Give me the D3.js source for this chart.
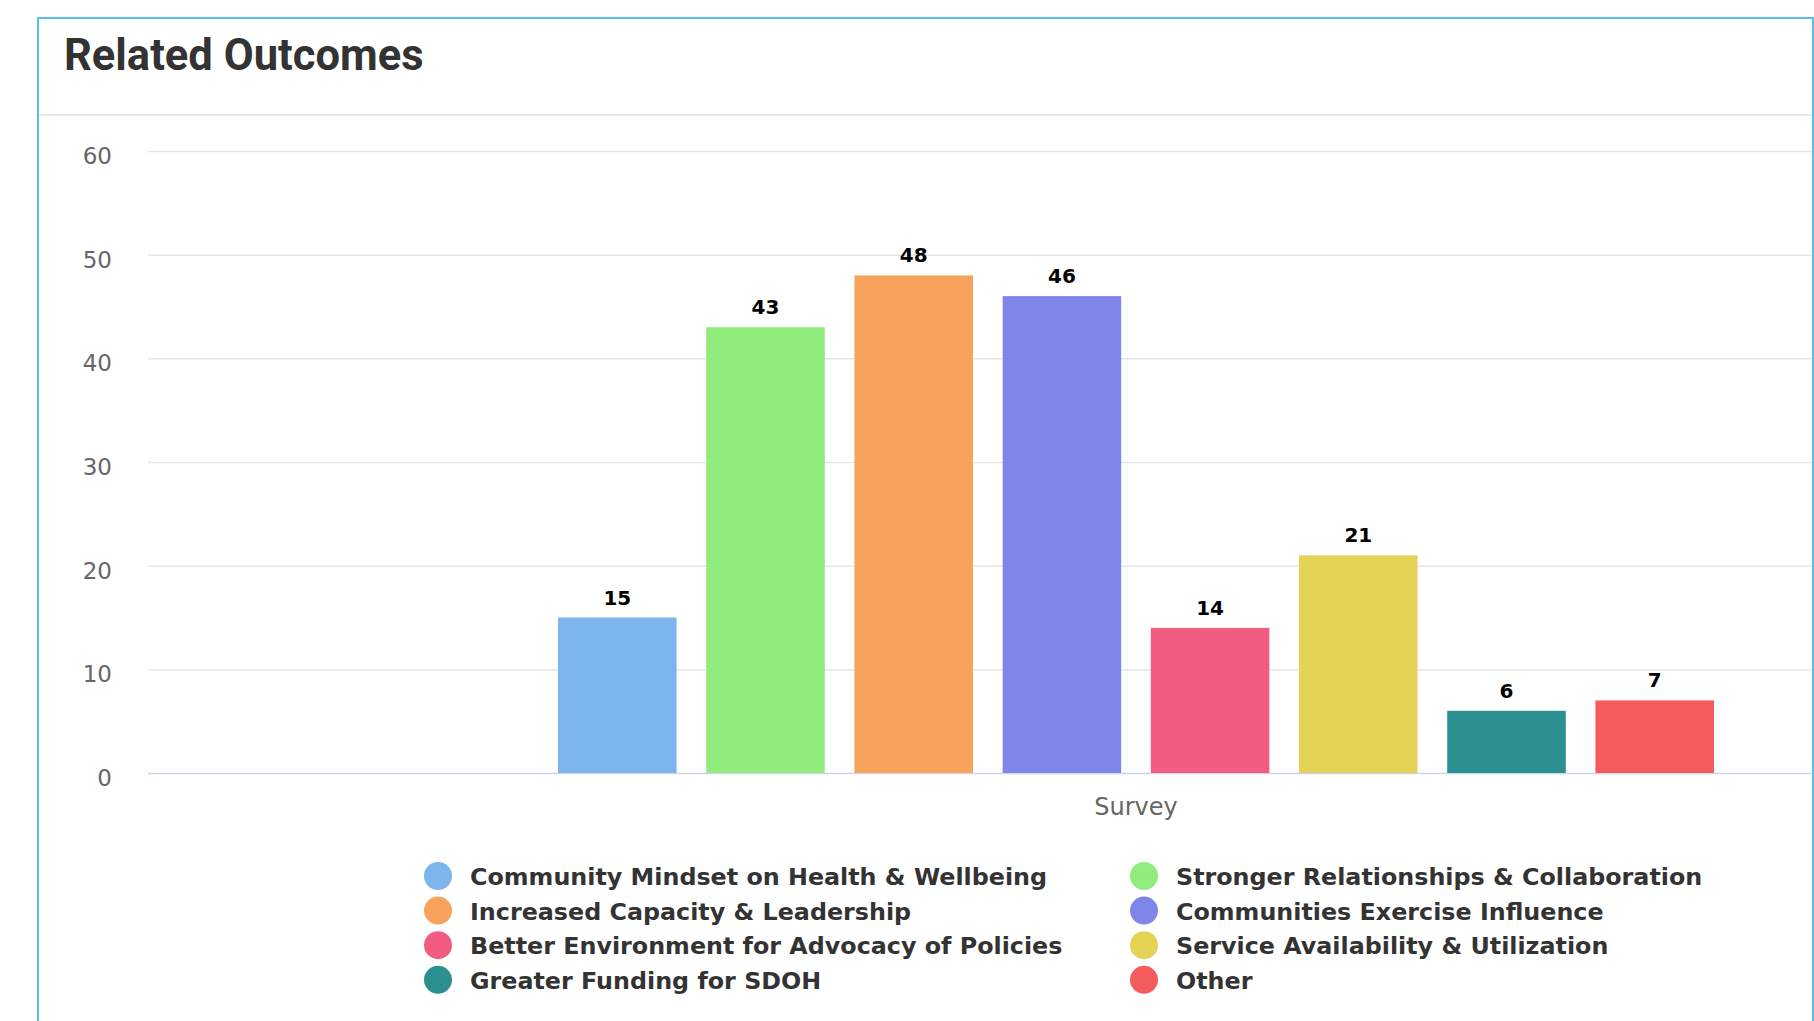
<!DOCTYPE html>
<html>
<head>
<meta charset="utf-8">
<title>Related Outcomes</title>
<script src="https://cdn.jsdelivr.net/npm/d3@7"></script>
<style>
	html, body { margin: 0; padding: 0; background: #fff; overflow: hidden; }
	svg { display: block; }
	.titre { font-family: Roboto, "Open Sans", sans-serif; font-weight: 700; fill: #333; }
	.axe text { font-family: "DejaVu Sans", Verdana, sans-serif; fill: #666; }
	.etiquette { font-family: "DejaVu Sans", Verdana, sans-serif; font-weight: 700; fill: #000; }
	.legende text { font-family: "DejaVu Sans", Verdana, sans-serif; font-weight: 700; fill: #333; }
</style>
</head>
<body>
<div id="graphique"></div>
<script>
"use strict";

// données
var categories = ["Survey"];
var series = [
	"Community Mindset on Health & Wellbeing",
	"Stronger Relationships & Collaboration",
	"Increased Capacity & Leadership",
	"Communities Exercise Influence",
	"Better Environment for Advocacy of Policies",
	"Service Availability & Utilization",
	"Greater Funding for SDOH",
	"Other"
];
var valeurs = [15, 43, 48, 46, 14, 21, 6, 7];
var graduations = [0, 10, 20, 30, 40, 50, 60];

// palette (celle de highcharts par défaut)
var couleurs = ["#7cb5ec", "#90ed7d", "#f7a35c", "#8085e9", "#f15c80", "#e4d354", "#2b908f", "#f45b5b"];

var dim = {
	largeur: 1814, hauteur: 1021,
	carteG: 38, carteH: 18, carteD: 1813,
	plotG: 148, plotL: 1976, plotH: 151, plotB: 773
};

var svg = d3.select("#graphique").append("svg")
	.attr("width", dim.largeur)
	.attr("height", dim.hauteur)
	.attr("xmlns", "http://www.w3.org/2000/svg");

// la carte
svg.append("rect")
	.attr("x", dim.carteG)
	.attr("y", dim.carteH)
	.attr("width", dim.carteD - dim.carteG)
	.attr("height", dim.hauteur)
	.attr("fill", "#fff")
	.attr("stroke", "#5bc0eb")
	.attr("stroke-width", 2);

svg.append("text")
	.attr("class", "titre")
	.attr("x", 64)
	.attr("y", 70)
	.attr("font-size", 43.5)
	.text("Related Outcomes");

svg.append("line")
	.attr("x1", dim.carteG + 1).attr("x2", dim.carteD - 1)
	.attr("y1", 115).attr("y2", 115)
	.attr("stroke", "#e6e9ee")
	.attr("stroke-width", 2);

// découpe : le graphique déborde de la carte à droite
svg.append("clipPath").attr("id", "decoupe")
	.append("rect")
		.attr("x", dim.carteG + 1)
		.attr("y", dim.carteH + 1)
		.attr("width", dim.carteD - dim.carteG - 2)
		.attr("height", dim.hauteur);

var g = svg.append("g").attr("clip-path", "url(#decoupe)");

// échelles
var y = d3.scaleLinear().domain([0, 60]).range([dim.plotB, dim.plotH]);
var x0 = d3.scaleBand().domain(categories).range([dim.plotG, dim.plotG + dim.plotL]);
var W = x0.bandwidth();
var x1 = d3.scaleBand().domain(series)
	.range([0.2 * W, 0.8 * W]) // groupPadding 0.2
	.paddingInner(0.2)
	.paddingOuter(0.1);        // pointPadding 0.1

// axe Y et grille
var axeY = g.append("g")
	.attr("class", "axe")
	.attr("transform", "translate(" + dim.plotG + ",0)")
	.call(d3.axisLeft(y).tickValues(graduations).tickSize(-dim.plotL).tickPadding(36));
axeY.select(".domain").remove();
axeY.selectAll("line")
	.attr("stroke", d => d === 0 ? "#ccd6eb" : "#e6e6e6")
	.attr("stroke-width", 1.5);
axeY.selectAll("text")
	.attr("font-size", 23)
	.attr("dy", "0.55em");

// axe X
var axeX = g.append("g")
	.attr("class", "axe")
	.attr("transform", "translate(0," + dim.plotB + ")")
	.call(d3.axisBottom(x0).tickSize(0).tickPadding(24.5));
axeX.select(".domain").remove();
axeX.selectAll("text").attr("font-size", 24);

// colonnes
var groupe = g.append("g")
	.selectAll("g")
	.data(categories)
	.join("g")
		.attr("transform", d => "translate(" + x0(d) + ",0)");

groupe.selectAll("rect")
	.data(series.map((s, i) => ({ serie: s, valeur: valeurs[i], couleur: couleurs[i] })))
	.join("rect")
		.attr("x", d => x1(d.serie))
		.attr("y", d => y(d.valeur))
		.attr("width", x1.bandwidth())
		.attr("height", d => y(0) - y(d.valeur))
		.attr("fill", d => d.couleur);

groupe.selectAll("text")
	.data(series.map((s, i) => ({ serie: s, valeur: valeurs[i] })))
	.join("text")
		.attr("class", "etiquette")
		.attr("x", d => x1(d.serie) + x1.bandwidth() / 2)
		.attr("y", d => y(d.valeur) - 13)
		.attr("text-anchor", "middle")
		.attr("font-size", 20)
		.text(d => d.valeur);

// légende sur deux colonnes
var colonnes = [438, 1144];
var legende = svg.append("g")
	.attr("class", "legende")
	.selectAll("g")
	.data(series)
	.join("g")
		.attr("transform", (d, i) => "translate(" + colonnes[i % 2] + "," + (876 + Math.floor(i / 2) * 34.6) + ")");

legende.append("circle")
	.attr("r", 14)
	.attr("fill", (d, i) => couleurs[i]);

legende.append("text")
	.attr("x", 32)
	.attr("y", 9)
	.attr("font-size", 23.8)
	.text(d => d);
</script>
</body>
</html>
